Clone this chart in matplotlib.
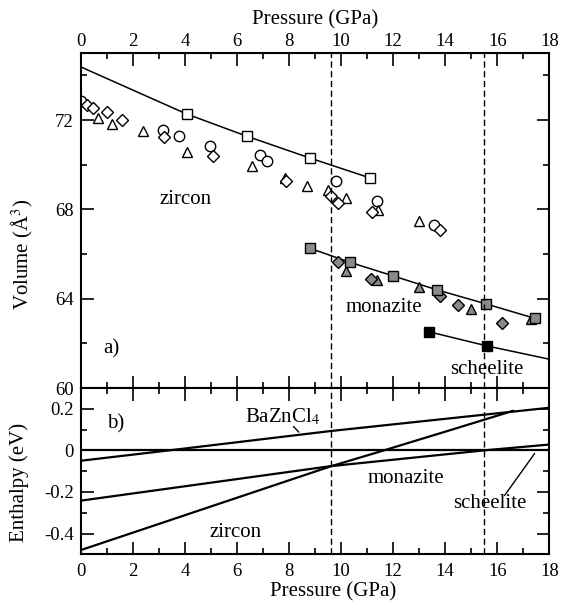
import matplotlib
matplotlib.use('Agg')
import matplotlib.pyplot as plt
from matplotlib.ticker import MultipleLocator

plt.rcParams['font.family'] = ['Liberation Serif', 'DejaVu Serif']
plt.rcParams['mathtext.fontset'] = 'stix'
plt.rcParams['axes.unicode_minus'] = False

# a) volume vs pressure
zr_circ_p = [0, 3.17, 3.79, 4.96, 6.88, 7.14, 9.8, 11.39, 13.57]
zr_circ_v = [72.84, 71.57, 71.3, 70.82, 70.42, 70.15, 69.25, 68.36, 67.31]
zr_diam_p = [0.25, 0.48, 1.0, 1.57, 3.2, 5.07, 7.88, 9.6, 9.89, 11.18, 13.82]
zr_diam_v = [72.69, 72.54, 72.35, 72.02, 71.24, 70.4, 69.28, 68.6, 68.28, 67.9, 67.09]
zr_tri_p = [0.68, 1.19, 2.4, 4.07, 6.59, 7.85, 8.68, 9.5, 10.2, 11.42, 13.0]
zr_tri_v = [72.1, 71.84, 71.52, 70.57, 69.96, 69.4, 69.03, 68.85, 68.5, 67.98, 67.49]
zr_sq_p = [4.07, 6.37, 8.8, 11.13]
zr_sq_v = [72.27, 71.28, 70.3, 69.4]
zr_fit_p = [0, 4.07, 6.37, 8.8, 11.13]
zr_fit_v = [74.38, 72.27, 71.28, 70.3, 69.4]

mz_sq_p = [8.8, 10.34, 12.0, 13.7, 15.56, 17.44]
mz_sq_v = [66.26, 65.63, 65.02, 64.39, 63.77, 63.12]
mz_diam_p = [9.89, 11.17, 13.82, 14.5, 16.18]
mz_diam_v = [65.66, 64.87, 64.13, 63.72, 62.9]
mz_tri_p = [10.2, 11.4, 13.0, 14.98, 17.28]
mz_tri_v = [65.26, 64.84, 64.52, 63.54, 63.08]

sc_sq_p = [13.37, 15.62]
sc_sq_v = [62.52, 61.88]
sc_fit_p = [13.37, 15.62, 18.0]
sc_fit_v = [62.52, 61.88, 61.29]

# b) enthalpy vs pressure
baz_p = [0, 3.4, 9.6, 18]
baz_h = [-0.05, 0.0, 0.093, 0.205]
zrH_p = [0, 9.6, 11.65, 14.24, 16.6]
zrH_h = [-0.48, -0.077, 0.0, 0.099, 0.19]
mzH_p = [0, 9.6, 15.5, 18]
mzH_h = [-0.242, -0.076, 0.0, 0.028]
scH_p = [0, 18]
scH_h = [0, 0]

transitions = [9.6, 15.5]

x_ticks = list(range(0, 19, 2))
v_ticks = [60, 64, 68, 72]
h_ticks = [0.2, 0, -0.2, -0.4]
h_labels = ['0.2', '0', '-0.2', '-0.4']

fig = plt.figure(figsize=(5.69, 6.04), dpi=100)
ax1 = fig.add_axes([0.1418, 0.3576, 0.8236, 0.5546])
ax2 = fig.add_axes([0.1418, 0.0823, 0.8236, 0.2753])

gray = '#8a8a8a'
ms = 7.5
ax1.plot(zr_fit_p, zr_fit_v, color='black', lw=1.1)
ax1.plot(mz_sq_p, mz_sq_v, color='black', lw=1.1)
ax1.plot(sc_fit_p, sc_fit_v, color='black', lw=1.1)
ax1.plot(zr_circ_p, zr_circ_v, 'o', mfc='white', mec='black', ms=ms, mew=1, ls='none')
ax1.plot(zr_tri_p, zr_tri_v, '^', mfc='white', mec='black', ms=ms, mew=1, ls='none')
ax1.plot(zr_diam_p, zr_diam_v, 'D', mfc='white', mec='black', ms=ms - 1.5, mew=1, ls='none')
ax1.plot(zr_sq_p, zr_sq_v, 's', mfc='white', mec='black', ms=ms, mew=1, ls='none')
ax1.plot(mz_tri_p, mz_tri_v, '^', mfc=gray, mec='black', ms=ms, mew=1, ls='none')
ax1.plot(mz_diam_p, mz_diam_v, 'D', mfc=gray, mec='black', ms=ms - 1.5, mew=1, ls='none')
ax1.plot(mz_sq_p, mz_sq_v, 's', mfc=gray, mec='black', ms=ms - 0.5, mew=1, ls='none')
ax1.plot(sc_sq_p, sc_sq_v, 's', mfc='black', mec='black', ms=ms - 0.5, ls='none')

ax2.plot(baz_p, baz_h, color='black', lw=1.6)
ax2.plot(zrH_p, zrH_h, color='black', lw=1.6)
ax2.plot(mzH_p, mzH_h, color='black', lw=1.6)
ax2.plot(scH_p, scH_h, color='black', lw=1.6)

for ax in (ax1, ax2):
    for p in transitions:
        ax.axvline(p, color='black', lw=1, dashes=(4.5, 2.5))
    ax.set_xlim(0, 18)
    ax.set_xticks(x_ticks)
    ax.xaxis.set_minor_locator(MultipleLocator(1))
    ax.tick_params(which='both', direction='in', top=True, bottom=True,
                   left=True, right=True, labelsize=13.5, width=1.2)
    ax.tick_params(which='major', length=9, pad=5)
    ax.tick_params(which='minor', length=4.5)
    for s in ax.spines.values():
        s.set_linewidth(1.5)

ax1.set_ylim(60, 75)
ax1.set_yticks(v_ticks)
ax1.yaxis.set_minor_locator(MultipleLocator(2))
ax1.tick_params(axis='x', labeltop=True, labelbottom=False, pad=2.5)
ax1.xaxis.set_label_position('top')
ax1.set_xlabel('Pressure (GPa)', fontsize=15, labelpad=6)
ax1.set_ylabel('Volume (Å$^3$)', fontsize=15)
ax1.yaxis.set_label_coords(-0.098, 0.40)

ax2.set_ylim(-0.5, 0.3)
ax2.set_yticks(h_ticks)
ax2.set_yticklabels(h_labels)
ax2.yaxis.set_minor_locator(MultipleLocator(0.1))
ax2.tick_params(axis='x', pad=6.5)
ax2.set_xlabel('Pressure (GPa)', fontsize=15)
ax2.xaxis.set_label_coords(0.538, -0.17)
ax2.set_ylabel('Enthalpy (eV)', fontsize=15)
ax2.yaxis.set_label_coords(-0.11, 0.43)

fs = 15
ax1.text(4.04, 68.23, 'zircon', fontsize=fs, ha='center', va='baseline')
ax1.text(11.64, 63.42, 'monazite', fontsize=fs, ha='center', va='baseline')
ax1.text(15.59, 60.63, 'scheelite', fontsize=fs, ha='center', va='baseline')
ax1.text(0.86, 61.55, 'a)', fontsize=fs, ha='left', va='baseline')

ax2.text(1.0, 0.106, 'b)', fontsize=fs, ha='left', va='baseline')
ax2.text(6.31, 0.137, 'BaZnCl$_4$', fontsize=fs, ha='left', va='baseline')
ax2.text(12.5, -0.157, 'monazite', fontsize=fs, ha='center', va='baseline')
ax2.text(5.96, -0.417, 'zircon', fontsize=fs, ha='center', va='baseline')
ax2.text(15.7, -0.277, 'scheelite', fontsize=fs, ha='center', va='baseline')
ax2.annotate('', xy=(8.45, 0.078), xytext=(8.1, 0.125),
             arrowprops=dict(arrowstyle='-', color='black', lw=1))
ax2.annotate('', xy=(17.5, -0.004), xytext=(16.22, -0.228),
             arrowprops=dict(arrowstyle='-', color='black', lw=1))

fig.savefig('out.png', dpi=100)
